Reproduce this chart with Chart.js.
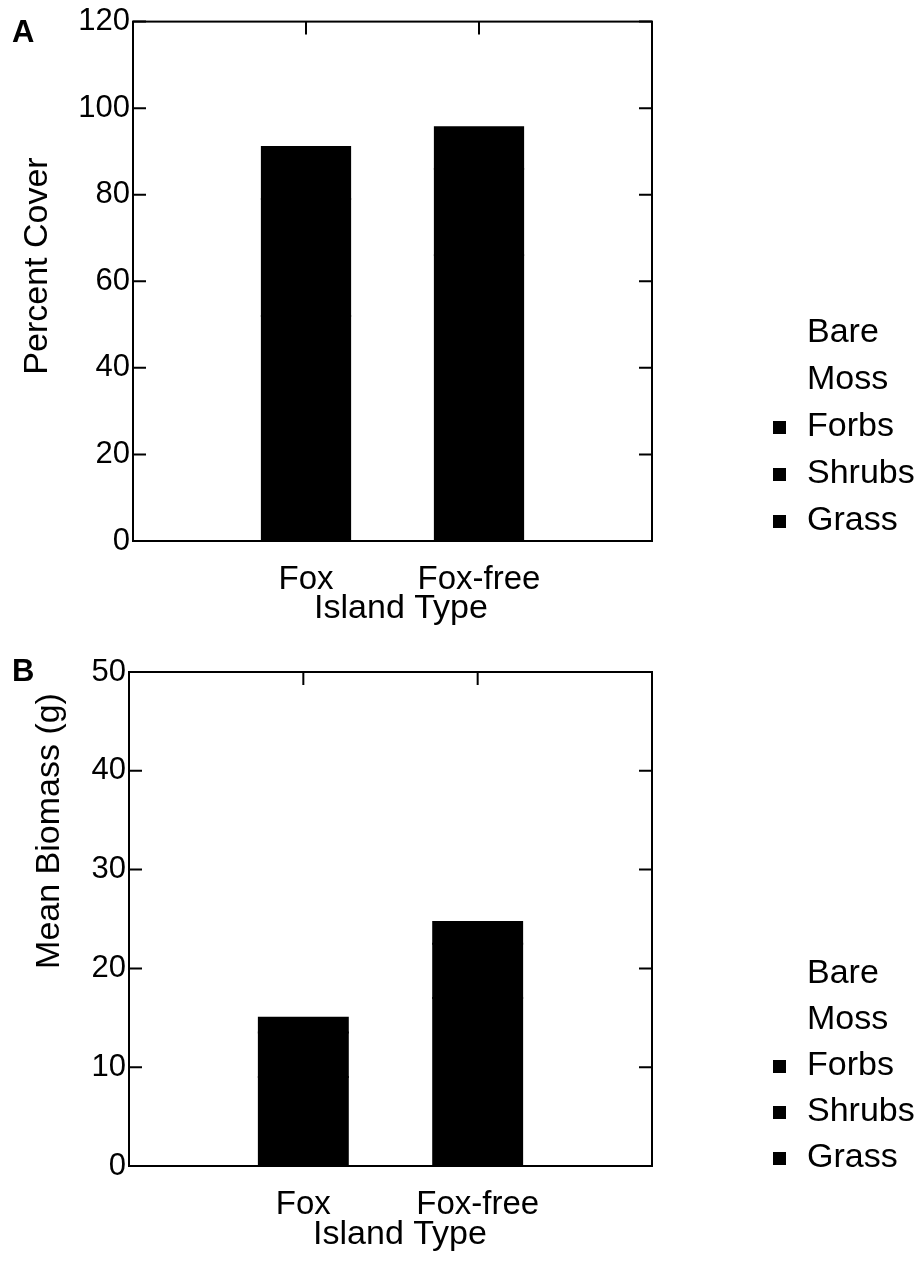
<!DOCTYPE html>
<html>
<head>
<meta charset="utf-8">
<script src="https://cdn.jsdelivr.net/npm/chart.js@4.4.1/dist/chart.umd.min.js"></script>
<style>
    body { margin: 0; background: #fff; }
    .panel { position: absolute; left: 0; }
</style>
</head>
<body>
<canvas id="coverChart" class="panel" width="922" height="642" style="top:0"></canvas>
<canvas id="biomassChart" class="panel" width="922" height="642" style="top:642px"></canvas>
<script>
// Island types along the x axis
const categories = ['Fox', 'Fox-free'];

// Legend order, top to bottom
const groupNames = ['Bare', 'Moss', 'Forbs', 'Shrubs', 'Grass'];

// Panel A - percent cover by group
const coverGrass = [52, 66];
const coverShrubs = [27, 20];
const coverForbs = [12, 9.6];
const coverMoss = [4, 2.4];
const coverBare = [5, 2];
const coverTicks = [0, 20, 40, 60, 80, 100, 120];

// Panel B - mean biomass (g) by group
const massGrass = [9, 17];
const massShrubs = [4.5, 5.5];
const massForbs = [1.5, 2.2];
const massMoss = [1.0, 1.5];
const massBare = [0, 0];
const massTicks = [0, 10, 20, 30, 40, 50];

const groupColors = {
    Bare: '#ffffff',
    Moss: '#ffffff',
    Forbs: '#000000',
    Shrubs: '#000000',
    Grass: '#000000'
};

const FONT = '"Liberation Sans", Arial, sans-serif';

// empty slots either side so the two bars sit at 1/3 and 2/3 of the axis
const xLabels = [''].concat(categories, ['']);
function pad(values) {
    return [null].concat(values, [null]);
}

// Frame round the plot with inward ticks on every side
const frameTicks = {
    id: 'frameTicks',
    afterDatasetsDraw(chart) {
        const { ctx, chartArea: a, scales: { x, y } } = chart;
        const len = 13;
        ctx.save();
        ctx.strokeStyle = '#000';
        ctx.lineWidth = 2;
        ctx.strokeRect(a.left, a.top, a.right - a.left, a.bottom - a.top);
        ctx.beginPath();
        y.ticks.forEach(t => {
            const py = y.getPixelForValue(t.value);
            ctx.moveTo(a.left, py);
            ctx.lineTo(a.left + len, py);
            ctx.moveTo(a.right, py);
            ctx.lineTo(a.right - len, py);
        });
        categories.forEach((c, i) => {
            const px = x.getPixelForValue(i + 1);
            ctx.moveTo(px, a.top);
            ctx.lineTo(px, a.top + len);
            ctx.moveTo(px, a.bottom);
            ctx.lineTo(px, a.bottom - len);
        });
        ctx.stroke();
        ctx.restore();
    }
};

// Panel letter, axis titles and the legend to the right of the plot
const panelText = {
    id: 'panelText',
    afterDraw(chart, args, opts) {
        const ctx = chart.ctx;
        ctx.save();
        ctx.fillStyle = '#000';
        ctx.textBaseline = 'middle';
        ctx.textAlign = 'left';
        ctx.font = 'bold 31px ' + FONT;
        ctx.fillText(opts.letter, opts.letterX, opts.letterY);

        ctx.font = '34px ' + FONT;
        ctx.textAlign = 'center';
        ctx.fillText('Island Type', opts.xTitle[0], opts.xTitle[1]);

        ctx.save();
        ctx.translate(opts.yTitle[0], opts.yTitle[1]);
        ctx.rotate(-Math.PI / 2);
        ctx.fillText(opts.yText, 0, 0);
        ctx.restore();

        ctx.textAlign = 'left';
        groupNames.forEach((name, i) => {
            const ds = chart.data.datasets.find(d => d.label === name);
            const cy = opts.legendTop + i * opts.legendStep;
            ctx.fillStyle = ds.backgroundColor;
            ctx.fillRect(opts.legendX, cy - 6, 13, 13);
            ctx.fillStyle = '#000';
            ctx.fillText(name, opts.legendX + 34, cy);
        });
        ctx.restore();
    }
};

function makePanel(id, series, ticks, layout) {
    const datasets = ['Grass', 'Shrubs', 'Forbs', 'Moss', 'Bare'].map(name => ({
        label: name,
        data: pad(series[name]),
        backgroundColor: groupColors[name],
        borderWidth: 0,
        inflateAmount: groupColors[name] === '#000000' ? 1 : 0,
        categoryPercentage: 1,
        barPercentage: 0.51
    }));

    return new Chart(document.getElementById(id), {
        type: 'bar',
        data: { labels: xLabels, datasets: datasets },
        plugins: [frameTicks, panelText],
        options: {
            responsive: false,
            animation: false,
            layout: { padding: { top: layout.top, right: 270, bottom: 0, left: 0 } },
            plugins: {
                legend: { display: false },
                tooltip: { enabled: false },
                panelText: layout.text
            },
            scales: {
                x: {
                    stacked: true,
                    offset: false,
                    grid: { display: false, drawTicks: false },
                    border: { display: false },
                    ticks: {
                        color: '#000',
                        font: { family: FONT, size: 33 },
                        padding: 19,
                        maxRotation: 0,
                        autoSkip: false
                    },
                    afterFit(scale) { scale.height = layout.xHeight; }
                },
                y: {
                    stacked: true,
                    min: ticks[0],
                    max: ticks[ticks.length - 1],
                    afterBuildTicks(scale) {
                        scale.ticks = ticks.map(v => ({ value: v }));
                    },
                    grid: { display: false, drawTicks: false },
                    border: { display: false },
                    ticks: {
                        color: '#000',
                        font: { family: FONT, size: 31 },
                        padding: 3
                    },
                    afterFit(scale) { scale.width = layout.left; }
                }
            }
        }
    });
}

makePanel('coverChart', {
    Grass: coverGrass, Shrubs: coverShrubs, Forbs: coverForbs, Moss: coverMoss, Bare: coverBare
}, coverTicks, {
    top: 20, left: 133, xHeight: 101,
    text: {
        letter: 'A', letterX: 12, letterY: 33,
        yText: 'Percent Cover', yTitle: [38, 266], xTitle: [401, 609],
        legendX: 773, legendTop: 333, legendStep: 47
    }
});

makePanel('biomassChart', {
    Grass: massGrass, Shrubs: massShrubs, Forbs: massForbs, Moss: massMoss, Bare: massBare
}, massTicks, {
    top: 30, left: 129, xHeight: 118,
    text: {
        letter: 'B', letterX: 12, letterY: 30,
        yText: 'Mean Biomass (g)', yTitle: [50, 189], xTitle: [400, 593],
        legendX: 773, legendTop: 332, legendStep: 46
    }
});
</script>
</body>
</html>
